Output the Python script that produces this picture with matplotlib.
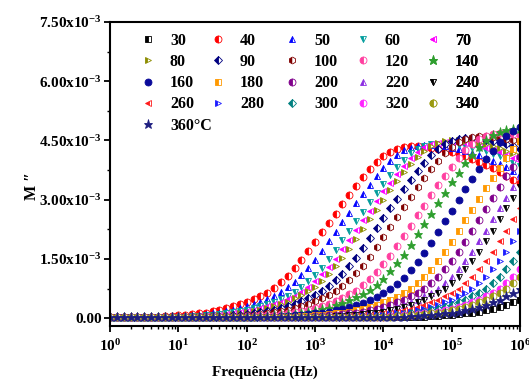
import numpy as np
import matplotlib
matplotlib.use('Agg')
import matplotlib.pyplot as plt
from matplotlib.ticker import FuncFormatter, MultipleLocator, LogLocator, NullFormatter

plt.rcParams['font.family'] = ['Liberation Serif', 'DejaVu Serif']
plt.rcParams['font.weight'] = 'bold'
plt.rcParams['mathtext.fontset'] = 'custom'
plt.rcParams['mathtext.rm'] = 'Liberation Serif:bold'
plt.rcParams['mathtext.bf'] = 'Liberation Serif:bold'
plt.rcParams['mathtext.it'] = 'Liberation Serif:bold:italic'

# measurement grid: 10 points per decade, 1 Hz .. 1 MHz
freq = 10.0 ** (np.arange(61) / 10.0)
UNIT = 1e-5  # values below are M'' in units of 1e-5

m30 = [3]*46 + [4, 5, 6, 7, 8, 10, 12, 14, 16, 20, 24, 28, 34, 40, 47]
m40 = [3]*6 + [3, 4, 5, 6, 7, 9, 10, 12, 14, 17, 21, 25, 30, 35, 41, 48, 56, 65, 77, 91,
               108, 126, 147, 170, 194, 218, 241, 265, 289, 313, 335, 357, 377, 395, 410, 422, 429, 433, 435, 435,
               434, 432, 429, 425, 421, 416, 410, 403, 396, 388, 380, 371, 361, 351, 341]
m50 = [3]*8 + [4, 4, 5, 6, 7, 9, 11, 12, 14, 18, 21, 25, 30, 35, 41, 48, 56, 66, 78, 92,
               109, 127, 148, 171, 195, 219, 243, 267, 291, 315, 337, 359, 379, 398, 413, 425, 432, 436, 438, 438,
               437, 435, 432, 428, 424, 419, 413, 406, 399, 391, 382, 373, 364]
m60 = [3]*10 + [4, 4, 5, 6, 8, 9, 11, 12, 15, 18, 21, 25, 30, 35, 42, 49, 57, 66, 78, 93,
                110, 128, 149, 172, 197, 221, 245, 270, 294, 318, 340, 362, 383, 401, 417, 429, 436, 440, 442, 442,
                441, 439, 436, 432, 428, 423, 416, 410, 402, 394, 386]
m70 = [3]*11 + [4, 4, 5, 6, 8, 9, 11, 12, 15, 18, 21, 25, 30, 36, 42, 49, 57, 67, 79, 94,
                111, 129, 150, 174, 198, 223, 248, 272, 297, 321, 343, 366, 386, 405, 421, 433, 440, 444, 446, 446,
                445, 443, 440, 436, 432, 426, 420, 413, 406, 398]
m80 = [3]*12 + [4, 5, 5, 6, 8, 9, 11, 13, 15, 18, 22, 26, 31, 36, 42, 50, 58, 68, 80, 94,
                112, 131, 152, 176, 200, 225, 250, 275, 299, 324, 347, 369, 390, 409, 424, 437, 444, 448, 450, 450,
                449, 447, 444, 440, 436, 430, 424, 417, 410]
m90 = [3]*14 + [4, 5, 5, 6, 8, 9, 11, 13, 15, 18, 22, 26, 31, 36, 43, 50, 58, 68, 81, 96,
                113, 132, 153, 177, 202, 228, 253, 278, 303, 328, 350, 373, 394, 413, 429, 441, 449, 453, 455, 455,
                454, 452, 449, 445, 440, 435, 429]
m100 = [3]*16 + [4, 5, 6, 6, 8, 9, 11, 13, 15, 18, 22, 26, 31, 37, 43, 51, 59, 69, 81, 97,
                 114, 133, 155, 179, 205, 230, 255, 281, 306, 331, 354, 377, 398, 418, 434, 446, 454, 458, 460, 460,
                 459, 457, 454, 450, 445]
m120 = [3]*19 + [4, 5, 6, 7, 8, 9, 11, 13, 15, 19, 22, 27, 32, 37, 44, 51, 60, 70, 83, 98,
                 116, 136, 158, 183, 208, 234, 260, 285, 311, 337, 360, 384, 405, 425, 441, 454, 462, 466, 468, 468,
                 467, 465]
m140 = [3]*21 + [4, 5, 6, 7, 8, 10, 11, 13, 16, 19, 23, 27, 33, 38, 45, 53, 61, 72, 85, 100,
                 119, 139, 161, 186, 213, 239, 265, 292, 318, 344, 368, 392, 414, 434, 451, 464, 472, 476, 478, 478]
m160 = [3]*24 + [4, 5, 6, 7, 8, 10, 12, 14, 16, 20, 24, 28, 33, 39, 46, 54, 63, 74, 87, 103,
                 122, 142, 165, 191, 218, 245, 272, 299, 326, 353, 377, 402, 424, 445, 462, 475, 484]
m180 = [3]*27 + [4, 5, 6, 7, 8, 10, 12, 14, 16, 20, 24, 28, 34, 40, 47, 54, 63, 74, 88, 104,
                 123, 144, 167, 193, 220, 248, 275, 302, 329, 356, 381, 406, 429, 449]
m200 = [3]*29 + [4, 5, 6, 7, 8, 10, 12, 14, 16, 20, 24, 28, 34, 40, 47, 55, 64, 75, 88, 105,
                 124, 144, 168, 194, 222, 249, 276, 304, 331, 359, 383, 408]
m220 = [3]*31 + [4, 5, 6, 7, 8, 10, 12, 14, 16, 20, 24, 28, 34, 40, 47, 55, 64, 75, 88, 105,
                 124, 145, 168, 195, 222, 250, 278, 305, 332, 360]
m240 = [3]*32 + [4, 5, 6, 7, 8, 10, 12, 14, 16, 20, 24, 28, 34, 40, 47, 55, 64, 75, 88, 105,
                 124, 145, 168, 195, 222, 250, 278, 305, 332]
m260 = [3]*34 + [4, 5, 6, 7, 8, 10, 12, 14, 16, 20, 24, 28, 34, 40, 47, 55, 64, 75, 88, 105,
                 124, 145, 168, 195, 222, 250, 278]
m280 = [3]*36 + [4, 5, 6, 7, 8, 10, 12, 14, 16, 20, 24, 28, 34, 40, 47, 55, 64, 75, 88, 105,
                 124, 145, 168, 195, 222]
m300 = [3]*38 + [4, 5, 6, 7, 8, 10, 12, 14, 16, 20, 24, 28, 34, 40, 47, 55, 64, 75, 88, 105,
                 124, 145, 168]
m320 = [3]*40 + [4, 5, 6, 7, 8, 10, 12, 14, 16, 20, 24, 28, 34, 40, 47, 55, 64, 75, 88, 105, 124]
m340 = [3]*41 + [4, 5, 6, 7, 8, 10, 12, 14, 16, 20, 24, 28, 34, 40, 47, 55, 64, 75, 88, 105]
m360 = [3]*43 + [4, 5, 6, 7, 8, 10, 12, 14, 16, 20, 24, 28, 34, 40, 47, 55, 64, 75]

labels = ["30", "40", "50", "60", "70", "80", "90", "100", "120", "140", "160",
          "180", "200", "220", "240", "260", "280", "300", "320", "340", "360°C"]
values = [m30, m40, m50, m60, m70, m80, m90, m100, m120, m140, m160,
          m180, m200, m220, m240, m260, m280, m300, m320, m340, m360]
markers = ['s', 'o', '^', 'v', '<', '>', 'D', 'h', 'o', '*', 'o',
           's', 'o', '^', 'v', '<', '>', 'D', 'o', 'o', '*']
colors = ['#000000', '#FF0000', '#0000FF', '#009C9C', '#FF00FF', '#8C8C00', '#000080', '#800000',
          '#FF3FA0', '#2E9E2E', '#0A0A9A', '#FF9900', '#80008C', '#8A2BE2', '#000000', '#FF1A1A',
          '#1A1AFF', '#008080', '#FF22FF', '#9A9A10', '#1E1E80']
fills = ['left', 'left', 'left', 'left', 'left', 'left', 'left', 'left', 'left', 'full', 'full',
         'left', 'left', 'left', 'left', 'left', 'left', 'left', 'left', 'left', 'full']

fig = plt.figure(figsize=(5.29, 3.85), dpi=100)
ax = fig.add_axes([0.208, 0.153, 0.775, 0.790])

handles = {}
for lab, vals, mk, col, fs in zip(labels, values, markers, colors, fills):
    ms = 5.0
    if mk == '*':
        ms = 6.5
    elif mk == 'D':
        ms = 4.0
    ln, = ax.plot(freq, np.array(vals) * UNIT, ls='none', marker=mk, ms=ms,
                  color=col, mec=col, mfc=col, mfcalt='white', fillstyle=fs, mew=0.6)
    handles[lab] = ln

ax.set_xscale('log')
ax.set_xlim(1, 1e6)
ax.set_ylim(-0.2e-3, 7.5e-3)

ax.yaxis.set_major_locator(MultipleLocator(1.5e-3))
ax.yaxis.set_minor_locator(MultipleLocator(0.75e-3))


def yfmt(v, pos):
    if abs(v) < 1e-9:
        return '0.00'
    return r'$\mathbf{%.2fx10^{-3}}$' % (v * 1e3)


ax.yaxis.set_major_formatter(FuncFormatter(yfmt))
ax.xaxis.set_major_locator(LogLocator(base=10, numticks=10))
ax.xaxis.set_minor_locator(LogLocator(base=10, subs=np.arange(2, 10), numticks=20))
ax.xaxis.set_minor_formatter(NullFormatter())
ax.xaxis.set_major_formatter(FuncFormatter(lambda v, p: r'$\mathbf{10^{%d}}$' % round(np.log10(v))))

for s in ax.spines.values():
    s.set_linewidth(1.5)
ax.tick_params(which='major', direction='out', length=4, width=1.3, labelsize=11)
ax.tick_params(axis='y', which='major', pad=2)
ax.tick_params(axis='x', which='major', pad=5)
ax.tick_params(which='minor', direction='out', length=2.5, width=1.0)
ax.tick_params(top=False, right=False, which='both')

ax.set_xlabel('Frequência (Hz)', fontsize=11, fontweight='bold')
ax.xaxis.set_label_coords(0.378, -0.13)
ax.set_ylabel('M \u2033', fontsize=11.5, fontweight='bold')
ax.yaxis.set_label_coords(-0.17, 0.46)

columns = [["30", "80", "160", "260", "360°C"],
           ["40", "90", "180", "280"],
           ["50", "100", "200", "300"],
           ["60", "120", "220", "320"],
           ["70", "140", "240", "340"]]
col_x = [0.0732, 0.2439, 0.4244, 0.5976, 0.7683]
for cx, col in zip(col_x, columns):
    lg = ax.legend([handles[c] for c in col], col, loc='upper left', bbox_to_anchor=(cx, 0.965),
                   frameon=False, borderpad=0, borderaxespad=0, handlelength=1.0,
                   handletextpad=0.875, labelspacing=0.33, numpoints=1,
                   prop={'family': 'Liberation Serif', 'weight': 'bold', 'size': 11.5})
    ax.add_artist(lg)

fig.savefig('out.png', dpi=100)
